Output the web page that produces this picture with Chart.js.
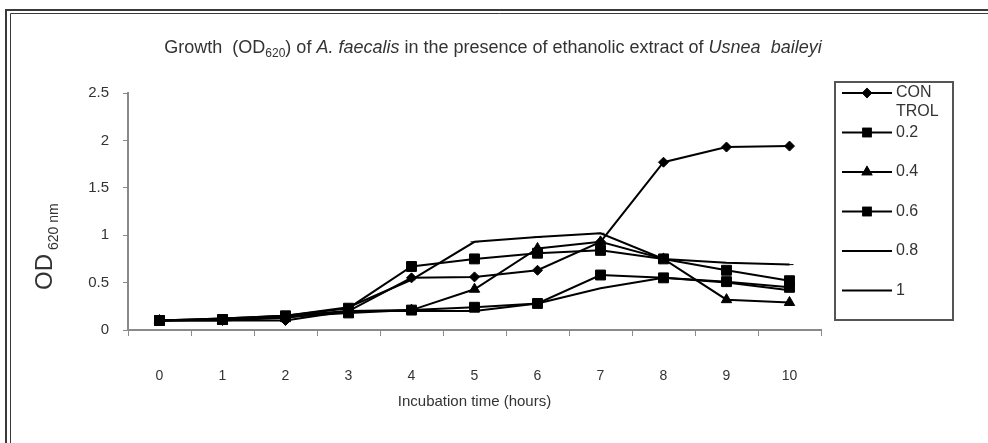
<!DOCTYPE html>
<html>
<head>
<meta charset="utf-8">
<script src="https://cdn.jsdelivr.net/npm/chart.js@4.4.1/dist/chart.umd.min.js"></script>
<style>
  html, body { margin: 0; padding: 0; background: #ffffff; }
  #wrap { width: 988px; height: 443px; position: relative; }
</style>
</head>
<body>
<div id="wrap"><canvas id="growth" width="988" height="443"></canvas></div>
<script>
// Incubation time in hours (x categories)
const hours = ['0', '1', '2', '3', '4', '5', '6', '7', '8', '9', '10'];

// OD620 readings for each treatment
const control = [0.10, 0.10, 0.10, 0.20, 0.55, 0.56, 0.63, 0.93, 1.77, 1.93, 1.94];
const conc02  = [0.10, 0.11, 0.15, 0.23, 0.67, 0.75, 0.81, 0.84, 0.75, 0.63, 0.52];
const conc04  = [0.10, 0.10, 0.13, 0.20, 0.21, 0.43, 0.86, 0.93, 0.75, 0.32, 0.29];
const conc06  = [0.10, 0.11, 0.14, 0.18, 0.21, 0.24, 0.28, 0.58, 0.55, 0.51, 0.45];
const conc08  = [0.10, 0.12, 0.15, 0.24, 0.53, 0.93, 0.98, 1.02, 0.75, 0.71, 0.69];
const conc10  = [0.10, 0.12, 0.15, 0.20, 0.20, 0.20, 0.28, 0.44, 0.55, 0.50, 0.42];

const seriesLabels = ['CONTROL', '0.2', '0.4', '0.6', '0.8', '1'];
const yTicks = [0, 0.5, 1, 1.5, 2, 2.5];

const FONT = '"Liberation Sans", Arial, sans-serif';
const TEXT = '#333333';
const AXIS = '#8a8a8a';

const markerStyles = [
  { pointStyle: 'rectRot',  pointRadius: 5 },
  { pointStyle: 'rect',     pointRadius: 7 },
  { pointStyle: 'triangle', pointRadius: 6 },
  { pointStyle: 'rect',     pointRadius: 7 },
  { pointStyle: 'line',     pointRadius: 4 },
  { pointStyle: 'circle',   pointRadius: 0 }
];

const seriesData = [control, conc02, conc04, conc06, conc08, conc10];

const datasets = seriesData.map((vals, i) => ({
  label: seriesLabels[i],
  data: vals,
  borderColor: '#000000',
  backgroundColor: '#000000',
  borderWidth: 2,
  pointBorderWidth: 1,
  pointBorderColor: '#000000',
  pointBackgroundColor: '#000000',
  pointStyle: markerStyles[i].pointStyle,
  pointRadius: markerStyles[i].pointRadius,
  pointHoverRadius: markerStyles[i].pointRadius,
  tension: 0,
  fill: false
}));

// Draws the frame, titles and the boxed legend around the plot
const decorations = {
  id: 'decorations',
  afterDraw(chart) {
    const ctx = chart.ctx;
    const area = chart.chartArea;
    ctx.save();

    // double frame on top and left
    ctx.strokeStyle = '#3a3a3a';
    ctx.lineWidth = 2;
    ctx.beginPath();
    ctx.moveTo(6, 443); ctx.lineTo(6, 10); ctx.lineTo(988, 10);
    ctx.stroke();
    ctx.lineWidth = 1;
    ctx.beginPath();
    ctx.moveTo(10.5, 443); ctx.lineTo(10.5, 13.5); ctx.lineTo(988, 13.5);
    ctx.stroke();

    ctx.fillStyle = TEXT;
    ctx.textBaseline = 'alphabetic';

    // chart title with subscript and italic species names
    const parts = [
      { t: 'Growth  (OD', f: '18px ' + FONT, dy: 0 },
      { t: '620', f: '12px ' + FONT, dy: 4 },
      { t: ') of ', f: '18px ' + FONT, dy: 0 },
      { t: 'A. faecalis', f: 'italic 18px ' + FONT, dy: 0 },
      { t: ' in the presence of ethanolic extract of ', f: '18px ' + FONT, dy: 0 },
      { t: 'Usnea  baileyi', f: 'italic 18px ' + FONT, dy: 0 }
    ];
    let total = 0;
    parts.forEach(p => { ctx.font = p.f; p.w = ctx.measureText(p.t).width; total += p.w; });
    let tx = 493 - total / 2;
    parts.forEach(p => {
      ctx.font = p.f;
      ctx.textAlign = 'left';
      ctx.fillText(p.t, tx, 53 + p.dy);
      tx += p.w;
    });

    // y axis title, rotated
    ctx.save();
    ctx.translate(52, 0);
    ctx.rotate(-Math.PI / 2);
    ctx.font = '24px ' + FONT;
    const odW = ctx.measureText('OD').width;
    ctx.textAlign = 'left';
    ctx.fillText('OD', -290, 0);
    ctx.font = '14px ' + FONT;
    ctx.fillText(' 620 nm', -290 + odW, 6);
    ctx.restore();

    // x axis title
    ctx.font = '15px ' + FONT;
    ctx.textAlign = 'center';
    ctx.fillText('Incubation time (hours)', (area.left + area.right) / 2, 406);

    // legend box
    const lx = 835, ly = 82, lw = 118, lh = 238;
    ctx.strokeStyle = '#555555';
    ctx.lineWidth = 2;
    ctx.strokeRect(lx, ly, lw, lh);
    ctx.font = '16px ' + FONT;
    ctx.textAlign = 'left';
    ctx.textBaseline = 'middle';
    chart.data.datasets.forEach((ds, i) => {
      const y = 93 + i * 39.5;
      ctx.strokeStyle = '#000000';
      ctx.lineWidth = 2;
      ctx.beginPath();
      ctx.moveTo(842, y); ctx.lineTo(892, y);
      ctx.stroke();
      if (ds.pointRadius > 0) {
        ctx.fillStyle = '#000000';
        Chart.helpers.drawPoint(ctx, {
          pointStyle: ds.pointStyle,
          radius: ds.pointRadius * 0.75,
          rotation: 0,
          borderWidth: 1
        }, 867, y);
        ctx.fill();
        ctx.stroke();
      }
      // wrap long labels by character to fit the box
      ctx.fillStyle = TEXT;
      const maxW = 44;
      const lines = [];
      let cur = '';
      for (const ch of ds.label) {
        if (ctx.measureText(cur + ch).width > maxW && cur) { lines.push(cur); cur = ch; }
        else cur += ch;
      }
      lines.push(cur);
      lines.forEach((ln, k) => ctx.fillText(ln, 896, y + k * 19));
    });

    ctx.restore();
  }
};

new Chart(document.getElementById('growth'), {
  type: 'line',
  data: { labels: hours, datasets },
  plugins: [decorations],
  options: {
    responsive: false,
    animation: false,
    events: [],
    layout: { padding: { top: 93, right: 167, left: 0, bottom: 0 } },
    plugins: {
      legend: { display: false },
      title: { display: false },
      tooltip: { enabled: false }
    },
    scales: {
      x: {
        type: 'category',
        offset: true,
        grid: {
          offset: true,
          drawOnChartArea: false,
          drawTicks: true,
          tickLength: 6,
          color: AXIS,
          lineWidth: 1
        },
        border: { display: true, color: AXIS, width: 2 },
        ticks: {
          color: TEXT,
          font: { family: FONT, size: 14 },
          padding: 32,
          maxRotation: 0,
          autoSkip: false
        },
        afterFit(scale) { scale.height = 113; }
      },
      y: {
        min: 0,
        max: 2.5,
        afterBuildTicks(scale) { scale.ticks = yTicks.map(v => ({ value: v })); },
        grid: {
          drawOnChartArea: false,
          drawTicks: true,
          tickLength: 5,
          color: AXIS,
          lineWidth: 1
        },
        border: { display: true, color: AXIS, width: 2 },
        ticks: {
          color: TEXT,
          font: { family: FONT, size: 15 },
          padding: 14,
          callback: (v) => String(v)
        },
        afterFit(scale) { scale.width = 128; }
      }
    }
  }
});
</script>
</body>
</html>
